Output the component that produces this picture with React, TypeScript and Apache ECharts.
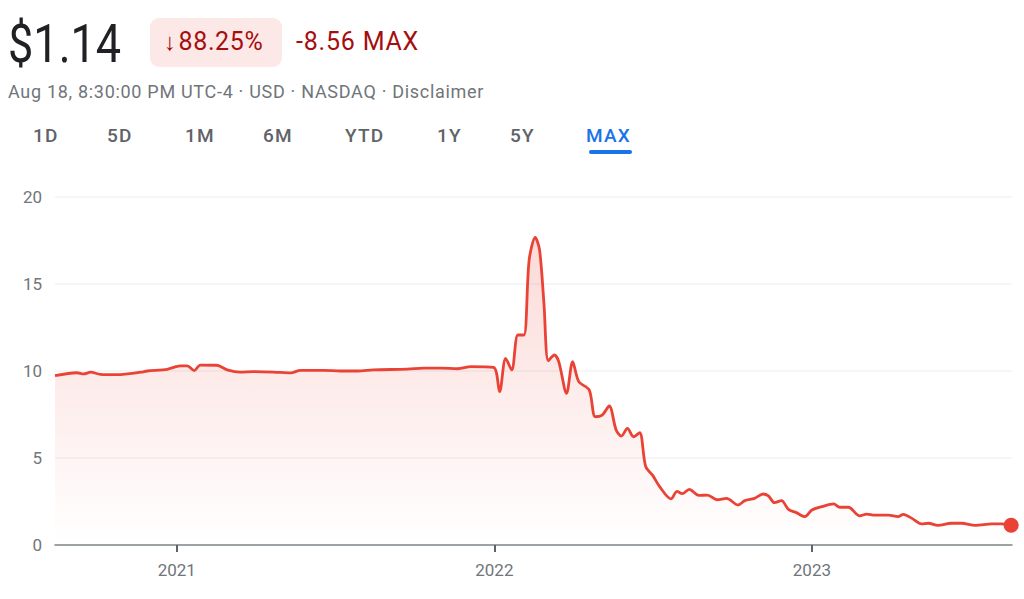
import React, { useEffect, useRef } from "react";
import * as echarts from "echarts";

const dates = [
  "2020-08-14", "2020-09-08", "2020-09-16", "2020-09-24", "2020-10-05", "2020-10-25",
  "2020-11-21", "2020-11-28", "2020-12-21", "2021-01-05", "2021-01-13", "2021-01-21",
  "2021-01-28", "2021-02-16", "2021-02-28", "2021-03-15", "2021-03-30", "2021-04-22",
  "2021-05-12", "2021-05-23", "2021-06-19", "2021-07-08", "2021-07-28", "2021-08-15",
  "2021-09-23", "2021-10-12", "2021-11-01", "2021-11-20", "2021-12-05", "2021-12-31",
  "2022-01-07", "2022-01-14", "2022-01-21", "2022-01-28", "2022-02-04", "2022-02-10",
  "2022-02-17", "2022-02-22", "2022-02-27", "2022-03-04", "2022-03-11", "2022-03-16",
  "2022-03-25", "2022-04-01", "2022-04-08", "2022-04-20", "2022-04-27", "2022-05-05",
  "2022-05-13", "2022-05-21", "2022-05-27", "2022-06-03", "2022-06-10", "2022-06-17",
  "2022-06-24", "2022-07-02", "2022-07-10", "2022-07-23", "2022-07-30", "2022-08-05",
  "2022-08-13", "2022-08-24", "2022-09-03", "2022-09-14", "2022-09-25", "2022-10-08",
  "2022-10-16", "2022-10-27", "2022-11-06", "2022-11-12", "2022-11-19", "2022-11-27",
  "2022-12-05", "2022-12-14", "2022-12-24", "2023-01-01", "2023-01-12", "2023-01-26",
  "2023-02-02", "2023-02-12", "2023-02-25", "2023-03-05", "2023-03-14", "2023-03-30",
  "2023-04-10", "2023-04-16", "2023-04-26", "2023-05-07", "2023-05-15", "2023-05-26",
  "2023-06-10", "2023-06-22", "2023-07-08", "2023-07-27", "2023-08-07", "2023-08-18",
];

const prices = [
  9.73, 9.9, 9.83, 9.93, 9.81, 9.79,
  9.93, 10.0, 10.1, 10.3, 10.3, 10.02,
  10.34, 10.33, 10.06, 9.93, 9.96, 9.94,
  9.89, 10.04, 10.04, 10.0, 10.0, 10.06,
  10.11, 10.17, 10.17, 10.13, 10.25, 10.21,
  8.81, 10.73, 10.06, 12.07, 12.07, 16.38,
  17.68, 16.95, 13.89, 10.59, 10.92, 10.54,
  8.72, 10.54, 9.39, 8.91, 7.37, 7.47,
  7.99, 6.61, 6.26, 6.7, 6.22, 6.45,
  4.5, 4.0, 3.35, 2.65, 3.08, 2.95,
  3.2, 2.85, 2.87, 2.6, 2.68, 2.3,
  2.55, 2.68, 2.93, 2.82, 2.43, 2.55,
  2.05, 1.86, 1.63, 2.01, 2.2, 2.36,
  2.17, 2.17, 1.67, 1.78, 1.72, 1.72,
  1.63, 1.76, 1.53, 1.21, 1.25, 1.13,
  1.25, 1.25, 1.13, 1.21, 1.21, 1.14,
];

const yearTicks = ["2021-01-01", "2022-01-01", "2023-01-01"];
const yTicks = [0, 5, 10, 15, 20];
const tabs = ["1D", "5D", "1M", "6M", "YTD", "1Y", "5Y", "MAX"];
const tabX = [33, 107, 185, 263, 345, 437, 510, 586];

const RED = "#ea4335";
const FONT = "Roboto, 'Noto Sans', sans-serif";

function parseLocal(s: string) {
  const [y, m, d] = s.split("-").map(Number);
  return new Date(y, m - 1, d).getTime();
}

export default function App() {
  const ref = useRef<HTMLDivElement>(null);

  useEffect(() => {
    if (!ref.current) return;
    const chart = echarts.init(ref.current, undefined, { renderer: "svg" });
    const lineData = dates.map((d, i) => [parseLocal(d), prices[i]]);
    const last = lineData[lineData.length - 1];
    const yearVals = yearTicks.map(parseLocal);
    chart.setOption({
      animation: false,
      grid: { left: 55, right: 12, top: 197, bottom: 54 },
      xAxis: {
        type: "value",
        min: parseLocal("2020-08-14"),
        max: parseLocal("2023-08-19"),
        axisLine: { show: true, lineStyle: { color: "#80868b", width: 1.5 } },
        axisTick: {
          show: true,
          customValues: yearVals,
          length: 7,
          lineStyle: { color: "#5f6368", width: 2 },
        },
        axisLabel: {
          customValues: yearVals,
          formatter: (v: number) => String(new Date(v).getFullYear()),
          color: "#70757a",
          fontSize: 17,
          fontFamily: FONT,
          margin: 16,
        },
        splitLine: { show: false },
      },
      yAxis: {
        type: "value",
        min: 0,
        max: 20,
        interval: 5,
        axisLine: { show: false },
        axisTick: { show: false },
        axisLabel: {
          color: "#70757a",
          fontSize: 17,
          fontFamily: FONT,
          margin: 13,
          formatter: (v: number) => (yTicks.includes(v) ? String(v) : ""),
        },
        splitLine: { show: true, lineStyle: { color: "#f1f3f4", width: 1.5 } },
      },
      series: [
        {
          type: "line",
          data: lineData,
          smooth: 0.3,
          showSymbol: false,
          lineStyle: { color: RED, width: 2.8 },
          areaStyle: {
            color: new echarts.graphic.LinearGradient(0, 0, 0, 1, [
              { offset: 0, color: "rgba(234,67,53,0.28)" },
              { offset: 1, color: "rgba(234,67,53,0)" },
            ]),
          },
          z: 2,
        },
        {
          type: "scatter",
          data: [last],
          symbolSize: 15,
          itemStyle: { color: RED, opacity: 1 },
          z: 3,
        },
      ],
    });
    return () => chart.dispose();
  }, []);

  return (
    <div
      style={{
        position: "absolute",
        left: 0,
        top: 0,
        width: 1024,
        height: 599,
        background: "#fff",
        fontFamily: FONT,
        overflow: "hidden",
      }}
    >
      <div
        style={{
          position: "absolute",
          left: 8,
          top: 18,
          fontSize: 53,
          lineHeight: "53px",
          color: "#202124",
          transform: "scaleX(0.85)",
          transformOrigin: "left top",
          whiteSpace: "nowrap",
        }}
      >
        $1.14
      </div>
      <div
        style={{
          position: "absolute",
          left: 150,
          top: 18,
          width: 132,
          height: 49,
          borderRadius: 9,
          background: "#fce8e6",
        }}
      />
      <div
        style={{
          position: "absolute",
          left: 164,
          top: 28,
          fontSize: 25,
          lineHeight: "28px",
          letterSpacing: 0.6,
          color: "#a50e0e",
          whiteSpace: "nowrap",
        }}
      >
        <span style={{ fontSize: 24, fontWeight: 700, marginRight: 2 }}>↓</span>88.25%
      </div>
      <div
        style={{
          position: "absolute",
          left: 296,
          top: 28,
          fontSize: 25,
          lineHeight: "28px",
          letterSpacing: 0.8,
          color: "#a50e0e",
          whiteSpace: "nowrap",
        }}
      >
        -8.56 MAX
      </div>
      <div
        style={{
          position: "absolute",
          left: 8,
          top: 80,
          fontSize: 18,
          lineHeight: "24px",
          letterSpacing: 0.7,
          color: "#70757a",
          whiteSpace: "nowrap",
        }}
      >
        Aug 18, 8:30:00 PM UTC-4 · USD · NASDAQ · Disclaimer
      </div>
      {tabs.map((t, i) => (
        <div
          key={t}
          style={{
            position: "absolute",
            left: tabX[i],
            top: 123,
            fontSize: 19,
            lineHeight: "26px",
            letterSpacing: 1.2,
            fontWeight: 500,
            color: t === "MAX" ? "#1a73e8" : "#5f6368",
            whiteSpace: "nowrap",
          }}
        >
          {t}
        </div>
      ))}
      <div
        style={{
          position: "absolute",
          left: 589,
          top: 150,
          width: 43,
          height: 4,
          borderRadius: 2,
          background: "#1a73e8",
        }}
      />
      <div
        ref={ref}
        style={{ position: "absolute", left: 0, top: 0, width: 1024, height: 599 }}
      />
    </div>
  );
}
